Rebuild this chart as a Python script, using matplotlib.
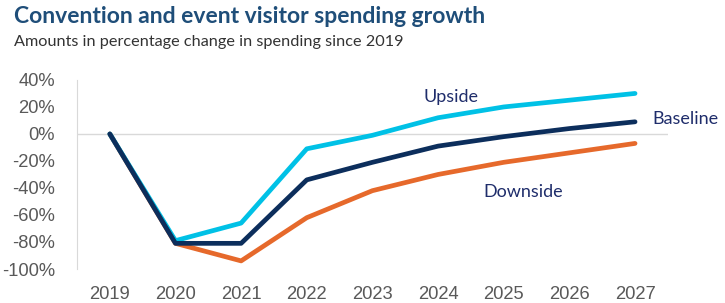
import matplotlib
matplotlib.use("Agg")
import matplotlib.pyplot as plt

years = [2019, 2020, 2021, 2022, 2023, 2024, 2025, 2026, 2027]
upside = [0, -79, -66, -11, -1, 12, 20, 25, 30]
baseline = [0, -81, -81, -34, -21, -9, -2, 4, 9]
downside = [0, -81, -94, -62, -42, -30, -21, -14, -7]
yticks = [-100, -80, -60, -40, -20, 0, 20, 40]

c_up = "#00c1e6"
c_base = "#0c2e5c"
c_down = "#e6692b"
c_label = "#1f2d6b"
c_tick = "#595959"

fig = plt.figure(figsize=(7.25, 3.03), dpi=100)
ax = fig.add_axes([0.1062, 0.1122, 0.815, 0.624])

ax.axhline(0, color="#d9d9d9", lw=1, zorder=1)
ax.plot(years, downside, color=c_down, lw=3.4, solid_capstyle="round", zorder=2)
ax.plot(years, upside, color=c_up, lw=3.4, solid_capstyle="round", zorder=3)
ax.plot(years, baseline, color=c_base, lw=3.4, solid_capstyle="round", zorder=4)

ax.set_xlim(2018.5, 2027.5)
ax.set_ylim(-100, 40)
ax.set_yticks(yticks)
ax.set_yticklabels([f"{v}%" for v in yticks])
ax.set_xticks(years)
ax.set_xticklabels([str(y) for y in years])
ax.tick_params(length=0, labelsize=13.2, colors=c_tick)
ax.tick_params(axis="y", pad=16)
ax.tick_params(axis="x", pad=12)
for lab in ax.get_xticklabels() + ax.get_yticklabels():
    lab.set_family("Liberation Sans")

for s in ["top", "right", "bottom"]:
    ax.spines[s].set_visible(False)
ax.spines["left"].set_color("#d9d9d9")

ax.text(2024.2, 27, "Upside", color=c_label, fontsize=13, family="Lato",
        ha="center", va="center", clip_on=False)
ax.text(2027.27, 11, "Baseline", color=c_label, fontsize=13, family="Lato",
        ha="left", va="center", clip_on=False)
ax.text(2025.3, -43, "Downside", color=c_label, fontsize=13, family="Lato",
        ha="center", va="center", clip_on=False)

fig.text(0.02, 0.945, "Convention and event visitor spending growth", color="#1f4e79",
         fontsize=16.5, fontweight="bold", family="Lato", ha="left", va="center")
fig.text(0.02, 0.86, "Amounts in percentage change in spending since 2019", color="#333333",
         fontsize=11.7, family="Lato", ha="left", va="center")

fig.savefig("out.png", dpi=100)
